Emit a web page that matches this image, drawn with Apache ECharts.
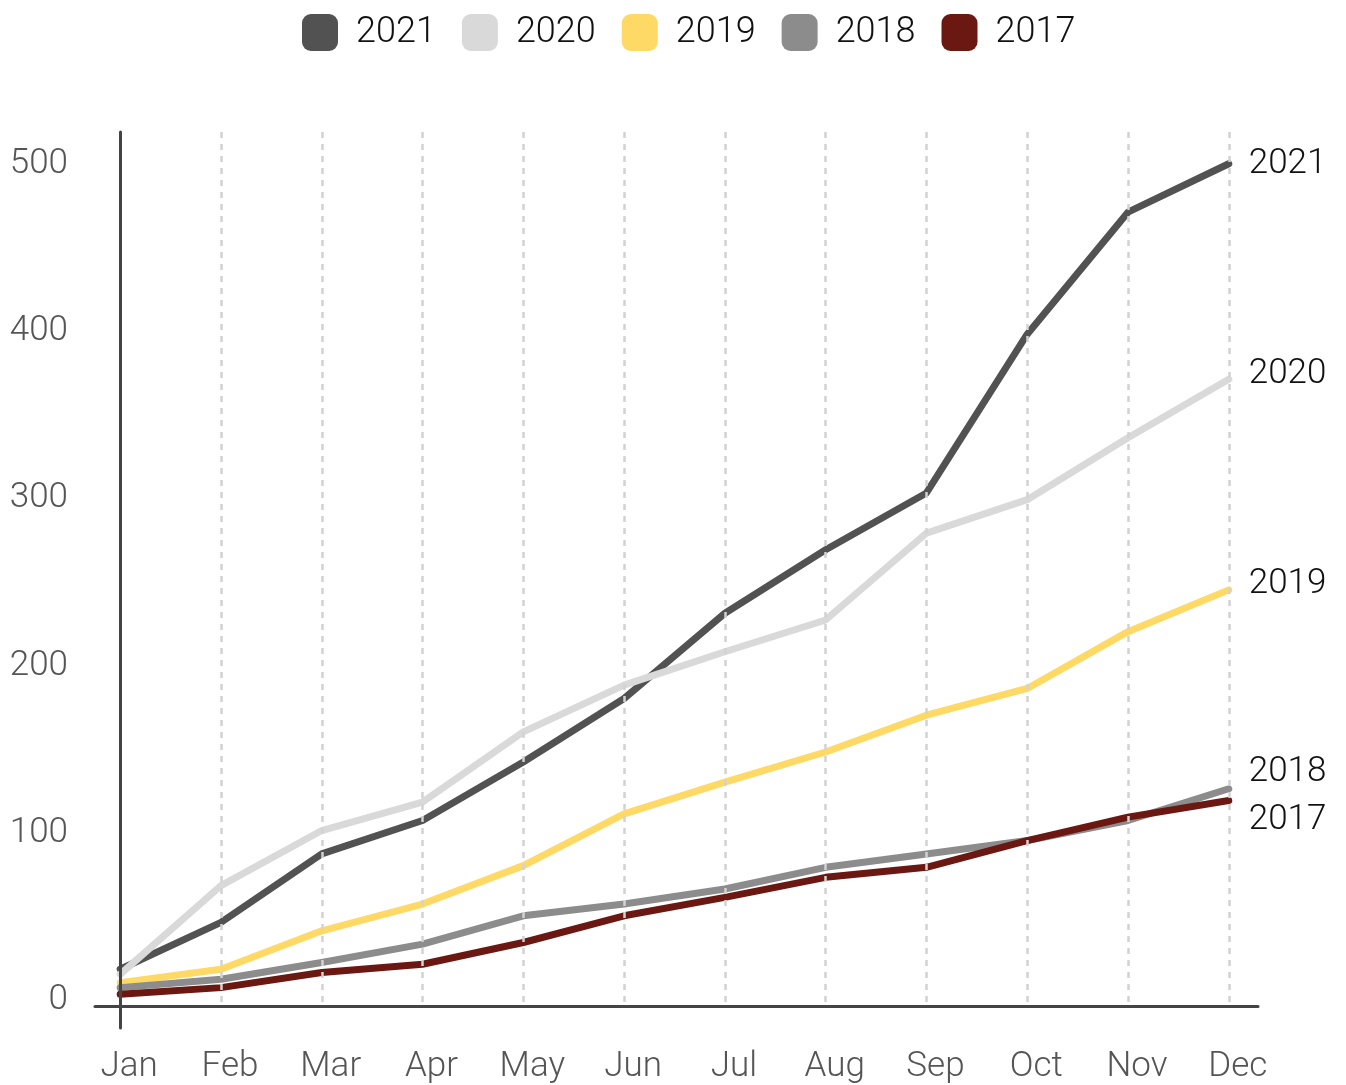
<!DOCTYPE html>
<html>
<head>
<meta charset="utf-8">
<script src="https://cdn.jsdelivr.net/npm/echarts@6/dist/echarts.min.js"></script>
<style>html,body{margin:0;padding:0;background:#fff}#c{width:1346px;height:1085px}</style>
</head>
<body>
<div id="c"></div>
<script>
const months = ['Jan','Feb','Mar','Apr','May','Jun','Jul','Aug','Sep','Oct','Nov','Dec'];
const yTicks = [0, 100, 200, 300, 400, 500];
const seriesNames = ['2021','2020','2019','2018','2017'];
const v2021 = [16, 44, 85, 105, 140, 178, 229, 267, 301, 396, 469, 498];
const v2020 = [13, 66, 99, 116, 158, 186, 206, 225, 277, 297, 334, 369];
const v2019 = [8, 16, 39, 55, 78, 109, 128, 146, 168, 184, 218, 243];
const v2018 = [5, 10, 20, 31, 48, 55, 64, 77, 85, 93, 105, 124];
const v2017 = [1, 5, 14, 19, 32, 48, 59, 71, 77, 93, 107, 117];
const values = [v2021, v2020, v2019, v2018, v2017];
const colors = ['#525252', '#d9d9d9', '#ffd966', '#8c8c8c', '#6b1812'];
const labelOffsets = [[0, 0], [0, -5], [0, -6], [0, -17], [0, 20]];

const FONT = 'Roboto';
const chart = echarts.init(document.getElementById('c'), null, {renderer: 'canvas'});

const series = seriesNames.map((name, i) => ({
  name: name,
  type: 'line',
  xAxisIndex: 0,
  yAxisIndex: 0,
  data: values[i].map((v, k) => [k, v]),
  showSymbol: false,
  symbol: 'none',
  color: colors[i],
  lineStyle: {width: 7, color: colors[i], cap: 'round', join: 'round'},
  endLabel: {
    show: true,
    formatter: '{a}',
    distance: 20,
    offset: labelOffsets[i],
    fontFamily: FONT,
    fontWeight: 300,
    fontSize: 35,
    color: '#111'
  },
  z: 2 + i,
  animation: false
}));

chart.setOption({
  animation: false,
  legend: {
    top: 9,
    left: 297,
    icon: 'roundRect',
    itemWidth: 36,
    itemHeight: 37,
    itemGap: 26,
    data: seriesNames,
    textStyle: {fontFamily: FONT, fontWeight: 300, fontSize: 36, color: '#111', padding: [0, 0, 0, 13]}
  },
  grid: [
    {left: 95, right: 88, top: 132, bottom: 78},
    {left: 120, right: 88, top: 132, bottom: 57}
  ],
  xAxis: [
    {
      type: 'value', gridIndex: 0, min: -0.25, max: 11.29, z: 10,
      axisLine: {onZero: false, lineStyle: {color: '#444', width: 3}},
      axisTick: {show: false, customValues: months.map((m, i) => i)},
      axisLabel: {
        customValues: months.map((m, i) => i),
        formatter: v => months[v] || '',
        margin: 44,
        padding: [0, 0, 0, 18],
        fontFamily: FONT, fontWeight: 300, fontSize: 35, color: '#555'
      },
      splitLine: {show: true, lineStyle: {color: '#d2d2d2', width: 2.5, type: [6, 6]}}
    },
    {
      type: 'value', gridIndex: 1, min: 0, max: 1, show: false
    }
  ],
  yAxis: [
    {
      type: 'value', gridIndex: 0, min: -6, max: 517,
      axisLine: {show: false}, axisTick: {show: false}, axisLabel: {show: false}, splitLine: {show: false}
    },
    {
      type: 'value', gridIndex: 1, min: -16.5, max: 519, z: 10,
      axisLine: {show: true, onZero: false, lineStyle: {color: '#444', width: 3}},
      axisTick: {show: false},
      axisLabel: {
        customValues: yTicks,
        margin: 52,
        fontFamily: FONT, fontWeight: 300, fontSize: 35, color: '#555'
      },
      splitLine: {show: false}
    }
  ],
  series: series
});
</script>
</body>
</html>
